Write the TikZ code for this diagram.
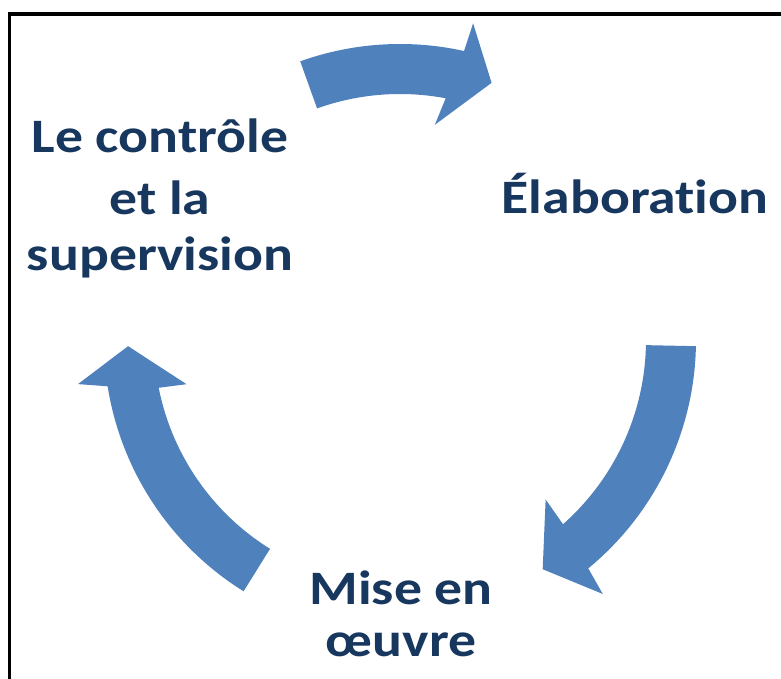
\documentclass[tikz,border=0pt]{standalone}
\usepackage{fontspec}
\setmainfont{Carlito}
\newfontfamily\phasefont[FakeStretch=1.16, RawFeature={-liga;-clig;-calt;-rlig}]{Carlito}
\definecolor{cycleblue}{RGB}{79,129,189}
\definecolor{labelnavy}{RGB}{23,55,94}
\tikzset{
  cyclearrow/.style={fill=cycleblue, draw=none},
  phase/.style={font=\phasefont\fontsize{48}{59}\selectfont\bfseries, text=labelnavy,
                align=center, inner sep=0pt, anchor=base},
  frameline/.style={draw=black, line width=3.5pt},
}
\begin{document}
\begin{tikzpicture}[x=1pt, y=1pt]
  \useasboundingbox (0,0) rectangle (781,679);
  \fill[white] (0,0) rectangle (781,679);
  % frame (only its top and left edges fall inside the page)
  \draw[frameline] (9.5,0) -- (9.5,665) -- (781,665);

  % the three curved block arrows, all on one circle
  \coordinate (C) at (400,339);
  \begin{scope}[shift={(C)}]
    % top arrow
    \fill[cyclearrow] (109.7:296) arc[start angle=109.7, end angle=77.5, radius=296]
      -- (77:325) -- (70.4:273) -- (80.8:218) -- (79.3:246)
      arc[start angle=79.3, end angle=109.7, radius=246] -- cycle;
    % right arrow
    \fill[cyclearrow] (-1.2:296) arc[start angle=-1.2, end angle=-50.5, radius=296]
      -- (-51.4:325) -- (-58.1:270) -- (-47.6:216) -- (-48.5:246)
      arc[start angle=-48.5, end angle=-1.2, radius=246] -- cycle;
    % left arrow
    \fill[cyclearrow] (-121.9:296) arc[start angle=-121.9, end angle=-171, radius=296]
      -- (-172.2:325) -- (-178.7:272) -- (-168.3:218) -- (-168.8:246)
      arc[start angle=-168.8, end angle=-121.9, radius=246] -- cycle;
  \end{scope}

  % phase labels (anchored on the baseline of their last line)
  \node[phase] (ctrl) at (160,408) {Le contrôle\\[3pt]et la\\[-3pt]supervision};
  \node[phase] (elab) at (635,465) {Élaborat\kern0pt ion};
  \node[phase] (mise) at (401,22) {Mise en\\[-7pt]œuvre};
\end{tikzpicture}
\end{document}
